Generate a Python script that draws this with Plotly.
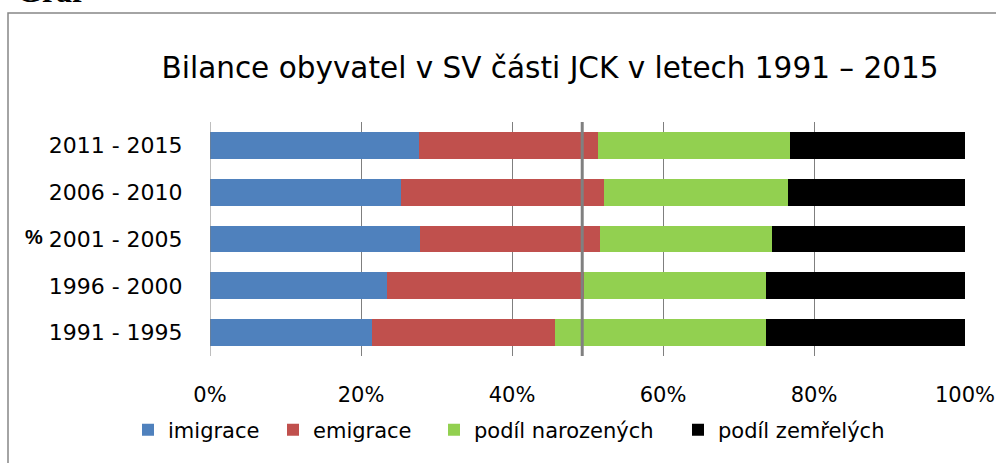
import plotly.graph_objects as go

categories = ["1991 - 1995", "1996 - 2000", "2001 - 2005", "2006 - 2010", "2011 - 2015"]
imigrace = [21.4, 23.4, 27.8, 25.3, 27.7]
emigrace = [24.3, 26.2, 23.9, 26.9, 23.7]
narozeni = [28.0, 24.1, 22.8, 24.3, 25.4]
zemreli = [26.3, 26.3, 25.5, 23.5, 23.2]
divider = 49.3
x_ticks = [0, 20, 40, 60, 80, 100]
x_tick_labels = ["0%", "20%", "40%", "60%", "80%", "100%"]

series = [
    ("imigrace", imigrace, "#4F81BD", "legend"),
    ("emigrace", emigrace, "#C0504D", "legend2"),
    ("podíl narozených", narozeni, "#92D050", "legend3"),
    ("podíl zemřelých", zemreli, "#000000", "legend4"),
]

W, H = 996, 463
L, R, T, B = 210, 31, 122, 107
pw, ph = W - L - R, H - T - B

def px_x(p):
    return (p - L) / pw

def px_y(p):
    return (H - B - p) / ph

FONT = "DejaVu Sans"

fig = go.Figure()
for name, vals, color, lg in series:
    fig.add_trace(go.Bar(
        y=categories, x=vals, name=name, orientation="h",
        marker=dict(color=color, line=dict(width=0)),
        legend=lg, showlegend=True,
    ))

legend_text_x = [168, 313, 474, 718]
legend_common = dict(orientation="h", yanchor="middle", xanchor="left",
                     font=dict(family=FONT, size=21, color="black"),
                     bgcolor="rgba(0,0,0,0)", borderwidth=0, visible=True)
layout_legends = {}
for i, (name, _, _, lg) in enumerate(series):
    layout_legends[lg] = dict(legend_common, x=px_x(legend_text_x[i] - 40), y=px_y(430))

fig.update_layout(
    width=W, height=H,
    showlegend=True,
    margin=dict(l=L, r=R, t=T, b=B, pad=0, autoexpand=False),
    barmode="stack",
    bargap=0.43,
    paper_bgcolor="white",
    plot_bgcolor="white",
    font=dict(family=FONT, size=21, color="black"),
    title=dict(text="Bilance obyvatel v SV části JCK v letech 1991 – 2015",
               x=px_x(550), xanchor="center", xref="paper",
               y=1 - 68 / H, yanchor="middle", yref="container",
               font=dict(family=FONT, size=29.5, color="black")),
    xaxis=dict(range=[0, 100], tickvals=x_ticks, ticktext=x_tick_labels,
               showgrid=True, gridcolor="#7f7f7f", gridwidth=1,
               zeroline=False, showline=False, automargin=False,
               ticks="outside", ticklen=20, tickcolor="rgba(0,0,0,0)",
               tickfont=dict(family=FONT, size=21, color="black"),
               fixedrange=True),
    yaxis=dict(type="category", categoryorder="array", categoryarray=categories,
               showgrid=False, zeroline=False, showline=False, automargin=False,
               ticks="outside", ticklen=22, tickcolor="rgba(0,0,0,0)",
               tickfont=dict(family=FONT, size=22, color="black"),
               fixedrange=True),
    **layout_legends,
)

# axis line at 0%
fig.add_shape(type="line", xref="x", yref="paper", x0=0, x1=0, y0=0, y1=1,
              line=dict(color="#7f7f7f", width=1))
# dividing line
fig.add_shape(type="line", xref="x", yref="paper", x0=divider, x1=divider, y0=0, y1=1,
              line=dict(color="#808080", width=3))
# outer border of chart area
fig.add_shape(type="rect", xref="paper", yref="paper",
              x0=px_x(8), x1=px_x(1010), y0=px_y(480), y1=px_y(13),
              line=dict(color="#868686", width=1.5), fillcolor="rgba(0,0,0,0)", layer="below")

fig.add_annotation(text="<b>%</b>", xref="paper", yref="paper",
                   x=px_x(34), y=px_y(237), xanchor="center", yanchor="middle",
                   showarrow=False, font=dict(family="Liberation Sans", size=20, color="black"))
fig.add_annotation(text="<b>Graf</b>", xref="paper", yref="paper",
                   x=px_x(15), y=px_y(-9), xanchor="left", yanchor="middle",
                   showarrow=False, font=dict(family="Liberation Serif", size=32, color="black"))

fig.write_html("out.html", config={"displayModeBar": False},
               post_script="document.body.style.margin='0';document.body.style.overflow='hidden';")
